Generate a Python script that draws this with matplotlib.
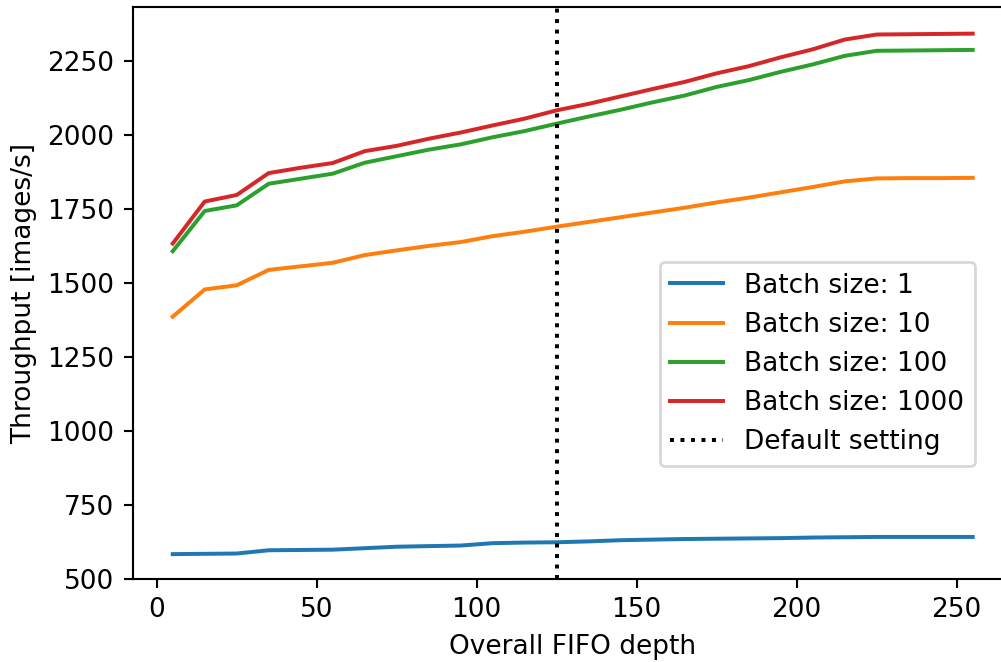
import matplotlib
matplotlib.use("Agg")
import matplotlib.pyplot as plt

fifo_depth = [5, 15, 25, 35, 45, 55, 65, 75, 85, 95, 105, 115, 125, 135, 145,
              155, 165, 175, 185, 195, 205, 215, 225, 235, 245, 255]

batch_1 = [584, 585, 586, 597, 598, 599, 604, 609, 611, 613, 621, 623, 624,
           627, 631, 633, 635, 636, 637, 638, 640, 641, 642, 642, 642, 642]
batch_10 = [1386, 1478, 1492, 1544, 1556, 1568, 1594, 1610, 1625, 1638, 1658,
            1673, 1690, 1706, 1722, 1738, 1754, 1772, 1788, 1806, 1824, 1843,
            1853, 1854, 1854, 1855]
batch_100 = [1607, 1743, 1762, 1835, 1852, 1869, 1906, 1928, 1950, 1968, 1992,
             2013, 2038, 2062, 2085, 2110, 2133, 2162, 2185, 2213, 2238, 2267,
             2284, 2285, 2286, 2287]
batch_1000 = [1633, 1775, 1797, 1871, 1889, 1905, 1945, 1963, 1987, 2008, 2032,
              2055, 2083, 2105, 2130, 2155, 2179, 2208, 2232, 2262, 2289, 2322,
              2339, 2340, 2341, 2342]

series = [("Batch size: 1", batch_1),
          ("Batch size: 10", batch_10),
          ("Batch size: 100", batch_100),
          ("Batch size: 1000", batch_1000)]
default_setting = 125

DPI = 190
fig = plt.figure(figsize=(1001 / DPI, 662 / DPI), dpi=DPI)
ax = fig.add_axes([0.1326, 0.1254, 0.8791, 0.8636])

for label, vals in series:
    ax.plot(fifo_depth, vals, label=label)
ax.axvline(default_setting, color="black", linestyle=":", label="Default setting")

ax.set_xlim(-7.5, 267.5)
ax.set_ylim(bottom=500, top=2431)
ax.set_xlabel("Overall FIFO depth")
ax.set_ylabel("Throughput [images/s]")
ax.legend(loc="center right", bbox_to_anchor=(0.957, 0.376), borderaxespad=0)

fig.savefig("out.png", dpi=DPI)
